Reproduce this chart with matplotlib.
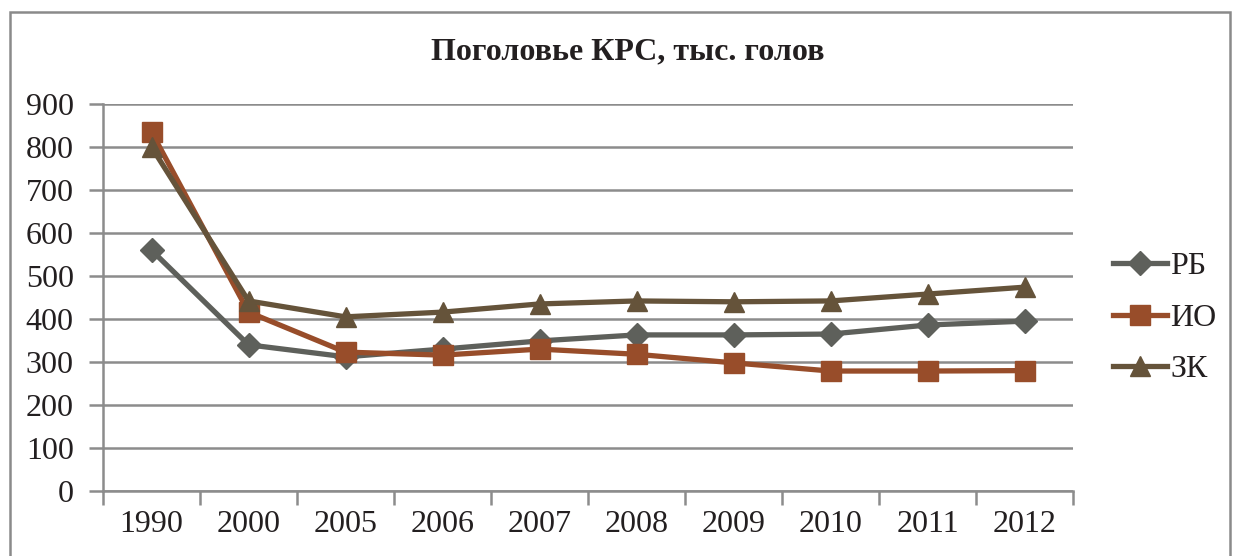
import matplotlib
matplotlib.use("Agg")
import matplotlib.pyplot as plt
from matplotlib.patches import Rectangle
import numpy as np

years = ["1990", "2000", "2005", "2006", "2007", "2008", "2009", "2010", "2011", "2012"]
rb = [560, 340, 312, 330, 349, 363, 363, 365, 386, 395]
io = [835, 416, 323, 316, 330, 318, 298, 279, 279, 280]
zk = [800, 442, 405, 416, 435, 442, 440, 442, 458, 474]
series_names = ["РБ", "ИО", "ЗК"]
title = "Поголовье КРС, тыс. голов"

plt.rcParams['font.family'] = ['Liberation Serif', 'DejaVu Serif']

W, H = 1234, 556
fig = plt.figure(figsize=(W / 100, H / 100), dpi=100)
ax = fig.add_axes([103 / W, 1 - 491 / H, (1073 - 103) / W, (491 - 104) / H])

# outer frame
fig.patches.append(Rectangle((10 / W, -0.1), (1230 - 10) / W, 1 - 12 / H + 0.1,
                             transform=fig.transFigure, fill=False,
                             edgecolor='#8a8a8a', linewidth=1.8, clip_on=False))

x = np.arange(len(years))
grid_c = '#8c8c8c'
ax.plot(x, rb, color='#5e605b', lw=3.8, marker='D', markersize=12, label=series_names[0], zorder=3)
ax.plot(x, io, color='#984d2a', lw=3.8, marker='s', markersize=14, label=series_names[1], zorder=4)
ax.plot(x, zk, color='#65533a', lw=3.8, marker='^', markersize=15, label=series_names[2], zorder=5)

ax.set_xlim(-0.5, len(years) - 0.5)
ax.set_ylim(0, 900)
ax.set_yticks(np.arange(0, 901, 100))
ax.set_xticks(x)
ax.set_xticklabels(years)
ax.set_xticks(np.arange(-0.5, len(years), 1), minor=True)
ax.yaxis.grid(True, color=grid_c, lw=1.8)
ax.set_axisbelow(True)
for s in ['top', 'right']:
    ax.spines[s].set_visible(False)
for s in ['left', 'bottom']:
    ax.spines[s].set_color(grid_c)
    ax.spines[s].set_linewidth(1.8)
ax.tick_params(axis='x', which='major', length=0, pad=14, labelsize=23, colors='#231f20')
ax.tick_params(axis='x', which='minor', length=10, width=1.8, color=grid_c)
ax.tick_params(axis='y', length=10, width=1.8, color=grid_c, labelsize=23, labelcolor='#231f20', pad=11)

fig.text(628 / W, 1 - 52 / H, title, ha='center', va='center', fontsize=23,
         fontweight='bold', color='#231f20')

leg = ax.legend(loc='center left', bbox_to_anchor=(1.041, 0.447), frameon=False,
                fontsize=23, handlelength=1.7, handletextpad=0.1, labelspacing=0.7,
                labelcolor='#231f20', borderpad=0, borderaxespad=0)

fig.savefig("out.png", dpi=100)
